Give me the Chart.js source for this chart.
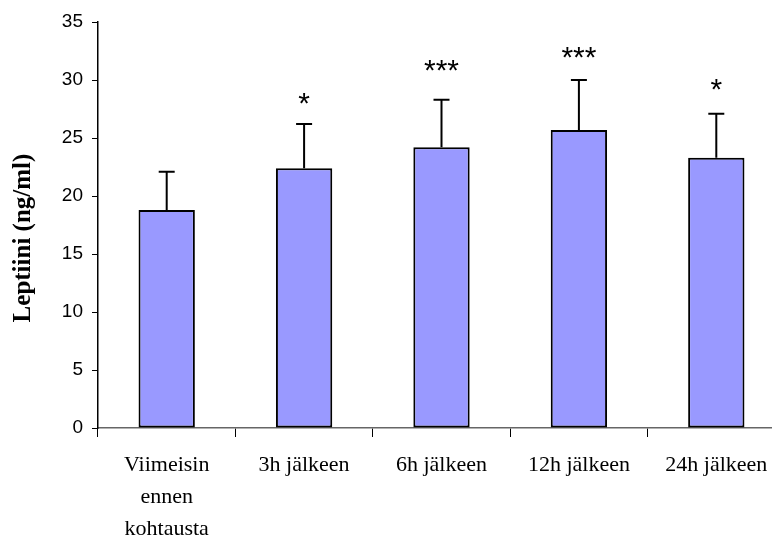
<!DOCTYPE html>
<html>
<head>
<meta charset="utf-8">
<script src="https://cdn.jsdelivr.net/npm/chart.js@4/dist/chart.umd.min.js"></script>
<style>
  html, body { margin: 0; padding: 0; background: #fff; overflow: hidden; }
  #wrap { width: 790px; height: 538px; }
</style>
</head>
<body>
<div id="wrap"><canvas id="kaavio" width="790" height="538"></canvas></div>
<script>
const kategoriat = [["Viimeisin", "ennen", "kohtausta"], "3h jälkeen", "6h jälkeen", "12h jälkeen", "24h jälkeen"];
const leptiini = [18.8, 22.4, 24.2, 25.7, 23.3];
const keskihajonta = [3.3, 3.8, 4.1, 4.3, 3.8];
const tahdet = ["", "*", "***", "***", "*"];
const tahtiTaso = [0, 28.6, 31.5, 32.6, 29.8];
const yTicks = [0, 5, 10, 15, 20, 25, 30, 35];
const yOtsikko = "Leptiini (ng/ml)";

// virhepalkit, merkitsevyystähdet ja y-akselin otsikko
const lisaPiirto = {
  id: 'lisaPiirto',
  afterDatasetsDraw(chart) {
    const ctx = chart.ctx;
    const x = chart.scales.x;
    const y = chart.scales.y;
    ctx.save();
    ctx.strokeStyle = '#000';
    ctx.lineWidth = 2;
    leptiini.forEach((arvo, i) => {
      const px = x.getPixelForValue(i);
      const yAla = y.getPixelForValue(arvo);
      const yYla = y.getPixelForValue(arvo + keskihajonta[i]);
      ctx.beginPath();
      ctx.moveTo(px, yAla);
      ctx.lineTo(px, yYla);
      ctx.moveTo(px - 8, yYla);
      ctx.lineTo(px + 8, yYla);
      ctx.stroke();
    });
    ctx.fillStyle = '#000';
    ctx.font = '30px "Liberation Sans", Arial, sans-serif';
    ctx.textAlign = 'center';
    ctx.textBaseline = 'alphabetic';
    tahdet.forEach((t, i) => {
      if (!t) return;
      const px = x.getPixelForValue(i);
      const py = y.getPixelForValue(tahtiTaso[i]) + 17;
      ctx.fillText(t, px, py);
    });

    // otsikko hieman alempana kuin akselin keskikohta
    ctx.font = 'bold 25px "Liberation Serif", "Times New Roman", serif';
    ctx.textBaseline = 'middle';
    ctx.translate(24, (y.top + y.bottom) / 2 + 13);
    ctx.rotate(-Math.PI / 2);
    ctx.fillText(yOtsikko, 0, 0);
    ctx.restore();
  }
};

new Chart(document.getElementById('kaavio'), {
  type: 'bar',
  data: {
    labels: kategoriat,
    datasets: [{
      data: leptiini,
      backgroundColor: '#9999ff',
      borderColor: '#000',
      borderWidth: 2,
      borderSkipped: false,
      categoryPercentage: 1,
      barPercentage: 0.41
    }]
  },
  options: {
    responsive: false,
    animation: false,
    devicePixelRatio: 1,
    layout: { padding: { top: 22, right: 5, left: 0, bottom: 0 } },
    plugins: {
      legend: { display: false },
      tooltip: { enabled: false }
    },
    scales: {
      x: {
        grid: {
          offset: true,
          drawOnChartArea: false,
          drawTicks: true,
          tickLength: 9,
          color: '#000'
        },
        border: { color: '#666', width: 1.5 },
        ticks: {
          color: '#000',
          padding: 12,
          font: { family: '"Liberation Serif", "Times New Roman", serif', size: 22, lineHeight: 1.45 },
          maxRotation: 0,
          autoSkip: false
        },
        afterFit(scale) { scale.height = 110; }
      },
      y: {
        min: 0,
        max: 35,
        afterBuildTicks(scale) { scale.ticks = yTicks.map(v => ({ value: v })); },
        grid: {
          drawOnChartArea: false,
          drawTicks: true,
          tickLength: 6,
          color: '#000'
        },
        border: { color: '#000', width: 1.5 },
        ticks: {
          color: '#000',
          padding: 9,
          font: { family: '"Liberation Sans", Arial, sans-serif', size: 19 }
        },
        afterFit(scale) { scale.width = 98; }
      }
    }
  },
  plugins: [lisaPiirto]
});
</script>
</body>
</html>
